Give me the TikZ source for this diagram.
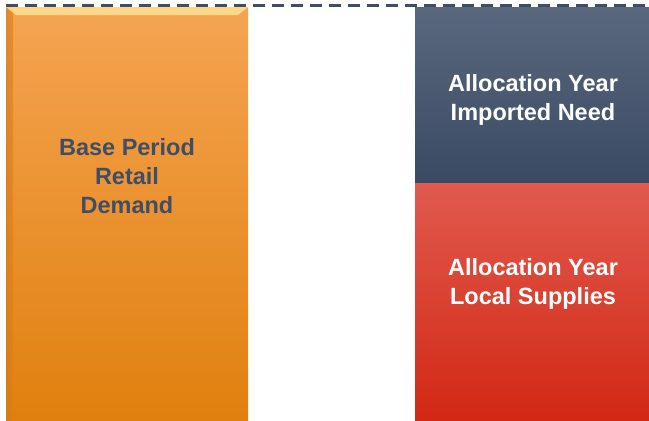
\documentclass[tikz,border=0pt]{standalone}
\usepackage{fontspec}
\setmainfont{Liberation Sans}
\definecolor{slate}{HTML}{3F4E66}
\definecolor{orangetop}{RGB}{245,164,82}
\definecolor{orangebot}{RGB}{224,128,14}
\definecolor{orangeedge}{RGB}{205,120,30}
\definecolor{glow}{RGB}{255,230,150}
\definecolor{slatetop}{RGB}{90,104,126}
\definecolor{slatebot}{RGB}{58,74,99}
\definecolor{redtop}{RGB}{225,90,78}
\definecolor{redbot}{RGB}{210,40,20}

\begin{document}
\begin{tikzpicture}[x=1pt,y=-1pt,thick,
    bar/.style={inner sep=0pt,outer sep=0pt},
    bar text/.style={font=\bfseries\fontsize{23.5}{29}\selectfont,align=center}]
                \useasboundingbox (0,0) rectangle (649,421);
                \coordinate (dl) at (6,5);
                \coordinate (dr) at (649,5);
                \draw[slate,line width=3pt,dash pattern=on 12pt off 7pt] (dl) -- (dr);

                \node[bar,minimum width=242pt,minimum height=414pt] (base) at (127,214) {};
                \shade[top color=orangetop,bottom color=orangebot]
                    (base.north west) rectangle (base.south east);
                \shade[left color=orangeedge,right color=orangebot,opacity=0.6]
                    (base.north west) rectangle ([xshift=7pt]base.south west);
                \fill[glow,opacity=0.8]
                    (base.north west) -- (base.north east) -- ([xshift=-10pt,yshift=-8pt]base.north east) -- ([xshift=10pt,yshift=-8pt]base.north west) -- cycle;
                \node[bar text,text=slate] (basetxt) at (127,176) {Base Period\\Retail\\Demand};

                \node[bar,minimum width=234pt,minimum height=176pt] (imp) at (532,95) {};
                \shade[top color=slatetop,bottom color=slatebot]
                    (imp.north west) rectangle (imp.south east);
                \node[bar text,text=white] (imptxt) at (533,99.5) {Allocation Year\\Imported Need};

                \node[bar,minimum width=234pt,minimum height=238pt] (loc) at (532,302) {};
                \shade[top color=redtop,bottom color=redbot]
                    (loc.north west) rectangle (loc.south east);
                \node[bar text,text=white] (loctxt) at (533,284) {Allocation Year\\Local Supplies};
            \end{tikzpicture}
\end{document}
